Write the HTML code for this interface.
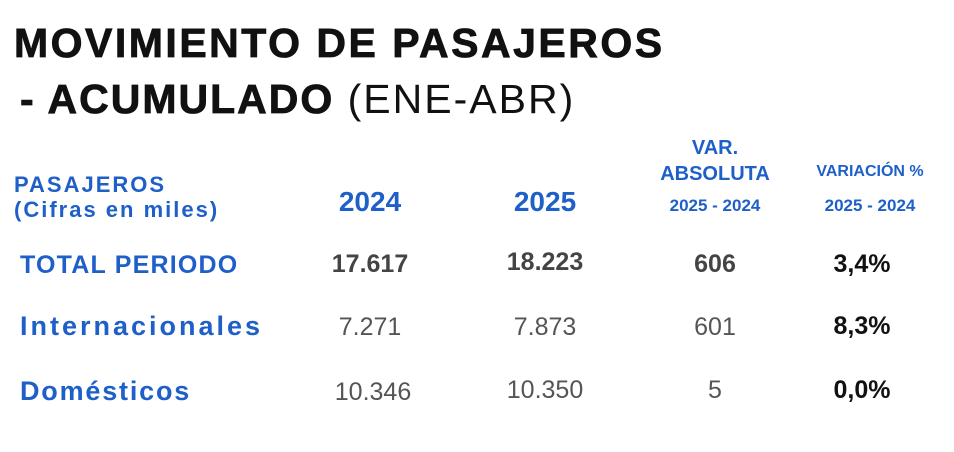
<!DOCTYPE html>
<html><head><meta charset="utf-8"><style>
body{margin:0;width:954px;height:452px;background:#fff;position:relative;overflow:hidden;font-family:"Liberation Sans","DejaVu Sans",sans-serif}
div{position:absolute;white-space:nowrap}
.t{font-weight:bold;font-size:41px;color:#111;left:14px;letter-spacing:2.5px;-webkit-text-stroke:0.8px #111}
.b{color:#1e5fc8;font-weight:bold}
.c{transform:translateX(-50%)}
.num{font-size:25px;color:#555}
.bn{font-size:25px;font-weight:bold;color:#444}
.pct{font-size:25px;font-weight:bold;color:#111}
</style></head><body>
<div class="t" style="top:20px">MOVIMIENTO DE PASAJEROS</div>
<div class="t" style="top:76px;left:20px;letter-spacing:2px">- ACUMULADO <span style="font-weight:normal;-webkit-text-stroke:0">(ENE-ABR)</span></div>

<div class="b" style="left:14px;top:172px;font-size:22px;line-height:25px;letter-spacing:2px">PASAJEROS<br>(Cifras en miles)</div>
<div class="b c" style="left:370px;top:186px;font-size:28px">2024</div>
<div class="b c" style="left:545px;top:186px;font-size:28px">2025</div>
<div class="b c" style="left:715px;top:135px;font-size:20px;line-height:26px;text-align:center">VAR.<br>ABSOLUTA</div>
<div class="b c" style="left:715px;top:196px;font-size:17px">2025 - 2024</div>
<div class="b c" style="left:870px;top:163px;font-size:16px">VARIACIÓN %</div>
<div class="b c" style="left:870px;top:196px;font-size:17px">2025 - 2024</div>

<div class="b" style="left:20px;top:251px;font-size:25px;letter-spacing:1.2px">TOTAL PERIODO</div>
<div class="bn c" style="left:370px;top:250px">17.617</div>
<div class="bn c" style="left:545px;top:248px">18.223</div>
<div class="bn c" style="left:715px;top:250px">606</div>
<div class="pct c" style="left:862px;top:250px">3,4%</div>

<div class="b" style="left:20px;top:311px;font-size:27px;letter-spacing:3px">Internacionales</div>
<div class="num c" style="left:370px;top:313px">7.271</div>
<div class="num c" style="left:545px;top:313px">7.873</div>
<div class="num c" style="left:715px;top:313px">601</div>
<div class="pct c" style="left:862px;top:312px">8,3%</div>

<div class="b" style="left:20px;top:376px;font-size:27px;letter-spacing:1.8px">Domésticos</div>
<div class="num c" style="left:373px;top:378px">10.346</div>
<div class="num c" style="left:545px;top:376px">10.350</div>
<div class="num c" style="left:715px;top:376px">5</div>
<div class="pct c" style="left:862px;top:376px">0,0%</div>
</body></html>
